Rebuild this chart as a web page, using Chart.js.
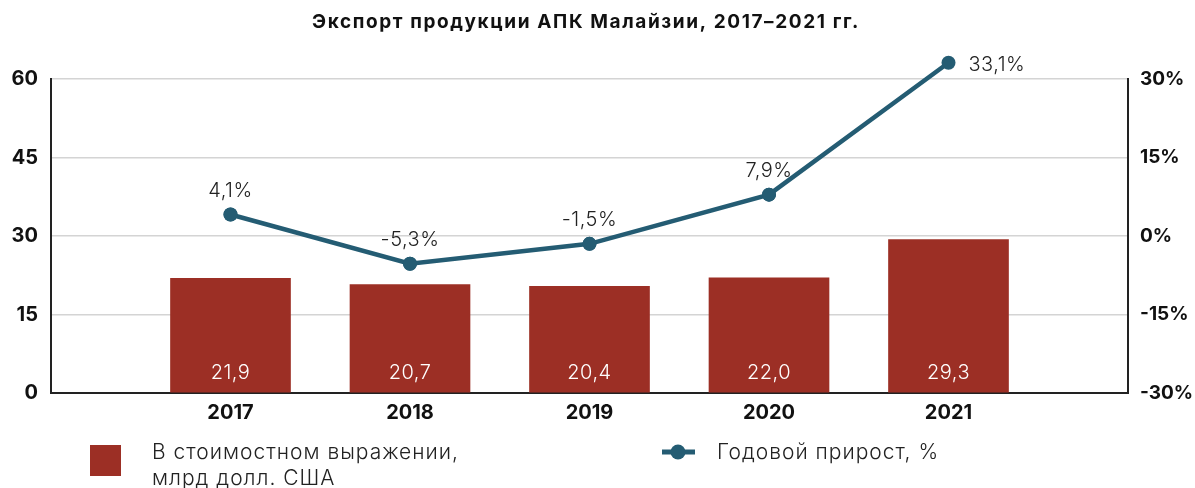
<!DOCTYPE html>
<html>
<head>
<meta charset="utf-8">
<script src="https://cdn.jsdelivr.net/npm/chart.js@4/dist/chart.umd.min.js"></script>
<style>
html,body{margin:0;padding:0;background:#fff;}
#wrap{width:1195px;height:488px;position:relative;}
</style>
</head>
<body>
<div id="wrap"><canvas id="c" width="1195" height="488"></canvas></div>
<script>
const titleText = 'Экспорт продукции АПК Малайзии, 2017–2021 гг.';
const years = ['2017', '2018', '2019', '2020', '2021'];
const exportValues = [21.9, 20.7, 20.4, 22.0, 29.3];
const growthValues = [4.1, -5.3, -1.5, 7.9, 33.1];
const leftTicks = [0, 15, 30, 45, 60];
const rightTicks = [-30, -15, 0, 15, 30];
const barLegend = ['В стоимостном выражении,', 'млрд долл. США'];
const lineLegend = 'Годовой прирост, %';

const FONT = 'Inter, "Open Sans", sans-serif';
const BAR_COLOR = '#9c2f25';
const LINE_COLOR = '#245c73';

const labels = [''].concat(years, ['']);
const barData = [null].concat(exportValues, [null]);
const lineData = [null].concat(growthValues, [null]);
const fmt = v => v.toFixed(1).replace('.', ',');

const overlay = {
  id: 'overlay',
  afterDatasetsDraw(chart) {
    const ctx = chart.ctx;
    ctx.save();
    // bar labels
    const bm = chart.getDatasetMeta(1);
    ctx.fillStyle = '#fff';
    ctx.font = '300 20px ' + FONT;
    ctx.letterSpacing = '0.5px';
    ctx.textAlign = 'center';
    ctx.textBaseline = 'middle';
    bm.data.forEach((el, i) => {
      const v = barData[i];
      if (v == null) return;
      ctx.fillText(fmt(v), el.x, chart.chartArea.bottom - 20);
    });
    // line points (drawn here so the one above the plot area is not culled)
    const lm = chart.getDatasetMeta(0);
    ctx.fillStyle = LINE_COLOR;
    lm.data.forEach((el, i) => {
      if (lineData[i] == null) return;
      ctx.beginPath();
      ctx.arc(el.x, el.y, 7, 0, Math.PI * 2);
      ctx.fill();
    });
    // line labels
    ctx.fillStyle = '#222';
    lm.data.forEach((el, i) => {
      const v = lineData[i];
      if (v == null) return;
      const t = fmt(v) + '%';
      if (i === lineData.length - 2) {
        ctx.textAlign = 'left';
        ctx.fillText(t, el.x + 20, el.y + 2);
      } else {
        ctx.textAlign = 'center';
        ctx.fillText(t, el.x, el.y - 24);
      }
    });
    ctx.restore();
  },
  afterDraw(chart) {
    const ctx = chart.ctx;
    ctx.save();
    // title
    ctx.fillStyle = '#111';
    ctx.font = 'bold 19px ' + FONT;
    ctx.letterSpacing = '1.6px';
    ctx.textAlign = 'center';
    ctx.textBaseline = 'middle';
    ctx.fillText(titleText, 586, 22);
    // legend bar
    ctx.fillStyle = BAR_COLOR;
    ctx.fillRect(90, 445, 31, 31);
    ctx.fillStyle = '#222';
    ctx.font = '300 21px ' + FONT;
    ctx.letterSpacing = '1px';
    ctx.textAlign = 'left';
    ctx.fillText(barLegend[0], 152, 453);
    ctx.fillText(barLegend[1], 152, 479);
    // legend line
    ctx.strokeStyle = LINE_COLOR;
    ctx.lineWidth = 5;
    ctx.beginPath();
    ctx.moveTo(662, 452);
    ctx.lineTo(695, 452);
    ctx.stroke();
    ctx.fillStyle = LINE_COLOR;
    ctx.beginPath();
    ctx.arc(678, 452, 7.5, 0, Math.PI * 2);
    ctx.fill();
    ctx.fillStyle = '#222';
    ctx.fillText(lineLegend, 717, 453);
    ctx.restore();
  }
};

new Chart(document.getElementById('c'), {
  data: {
    labels: labels,
    datasets: [
      {
        type: 'line',
        data: lineData,
        yAxisID: 'y1',
        borderColor: LINE_COLOR,
        backgroundColor: LINE_COLOR,
        borderWidth: 4.5,
        pointRadius: 7,
        pointHoverRadius: 7,
        pointBackgroundColor: LINE_COLOR,
        pointBorderWidth: 0,
        tension: 0,
        clip: false,
        spanGaps: false,
        order: 0
      },
      {
        type: 'bar',
        data: barData,
        yAxisID: 'y',
        backgroundColor: BAR_COLOR,
        barThickness: 120,
        order: 1
      }
    ]
  },
  options: {
    responsive: false,
    animation: false,
    events: [],
    layout: { padding: { top: 79, bottom: 55, left: 0, right: 0 } },
    plugins: { legend: { display: false }, tooltip: { enabled: false }, title: { display: false } },
    scales: {
      x: {
        offset: false,
        grid: { display: false, drawTicks: false },
        border: { display: true, color: '#222', width: 2 },
        ticks: { color: '#111', font: { family: FONT, size: 20, weight: 'bold' }, padding: 8, maxRotation: 0, autoSkip: false },
        afterFit(s) { s.height = 40; }
      },
      y: {
        position: 'left',
        min: 0, max: 60,
        afterBuildTicks(s) { s.ticks = leftTicks.map(v => ({ value: v })); },
        grid: { color: '#d4d4d4', lineWidth: 1.5, drawTicks: false },
        border: { display: true, color: '#222', width: 2 },
        ticks: { color: '#111', font: { family: FONT, size: 20, weight: 'bold' }, padding: 13 },
        afterFit(s) { s.width = 51; }
      },
      y1: {
        position: 'right',
        min: -30, max: 30,
        afterBuildTicks(s) { s.ticks = rightTicks.map(v => ({ value: v })); },
        grid: { display: false, drawTicks: false },
        border: { display: true, color: '#222', width: 2 },
        ticks: { color: '#111', font: { family: FONT, size: 19, weight: 'bold' }, padding: 12, callback: v => v + '%' },
        afterFit(s) { s.width = 67; }
      }
    }
  },
  plugins: [overlay]
});
</script>
</body>
</html>
